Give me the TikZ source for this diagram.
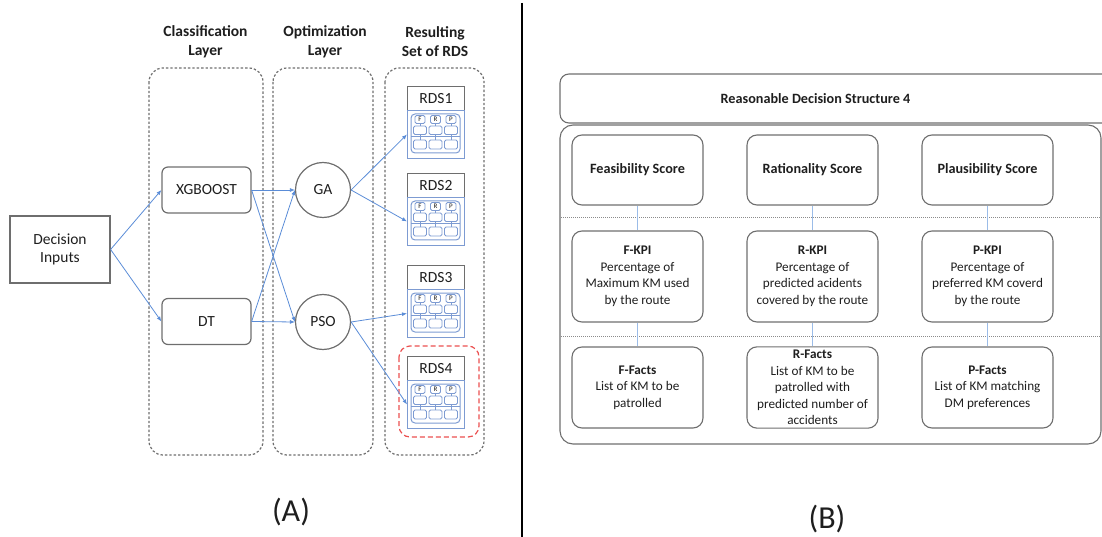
\documentclass[tikz,border=0pt]{standalone}
\usepackage{fontspec}
\setmainfont{Carlito}
\usetikzlibrary{arrows.meta}
\definecolor{flowblue}{RGB}{90,140,215}
\definecolor{linkblue}{RGB}{155,188,232}
\definecolor{rdsblue}{RGB}{125,155,210}
\definecolor{edgegray}{RGB}{110,110,110}
\definecolor{inkgray}{RGB}{30,30,30}
\definecolor{alertred}{RGB}{235,80,80}

\tikzset{
  every node/.style={text=inkgray},
  layerpanel/.style={draw=edgegray, line width=1.2pt, dash pattern=on 2.4pt off 2pt, rounded corners=14pt},
  layertitle/.style={align=center, font=\fontsize{15.5}{19}\selectfont\bfseries},
  inbox/.style={draw=edgegray, line width=1.2pt, minimum width=100pt, minimum height=67pt, align=center,
    font=\fontsize{15.5}{18}\selectfont},
  model/.style={draw=edgegray, line width=1.2pt, rounded corners=6pt, minimum width=89pt, minimum height=46pt,
    font=\fontsize{15.5}{18}\selectfont},
  algo/.style={circle, draw=edgegray, line width=1.2pt, minimum size=55pt, inner sep=0pt,
    font=\fontsize{15.5}{18}\selectfont},
  flow/.style={draw=flowblue, line width=0.8pt, -{Latex[length=5pt,width=4pt]}},
  tag/.style={font=\fontsize{32}{36}\selectfont},
  rds/.pic={
    \node[draw=edgegray, line width=0.9pt, minimum width=57pt, minimum height=24pt, anchor=north west,
      inner sep=0pt, font=\fontsize{15.5}{17}\selectfont] (-head) at (0,0) {#1};
    \node[draw=rdsblue, line width=0.9pt, minimum width=57pt, minimum height=48pt, anchor=north west,
      inner sep=0pt] (-body) at (0,24) {};
    \draw[rdsblue, rounded corners=4pt, line width=1pt] (4,28) rectangle (53,67);
    \draw[rdsblue, line width=0.5pt] (4,50.5) -- (53,50.5);
    \foreach \cx/\lt in {13/F,28.5/R,44/P}{
      \draw[rdsblue, line width=0.8pt, rounded corners=1.5pt] (\cx-5,29.5) rectangle (\cx+5,37.5);
      \node[inner sep=0pt, font=\fontsize{7}{7}\selectfont] at (\cx,33.5) {\lt};
      \draw[rdsblue, line width=0.8pt, rounded corners=1.5pt] (\cx-6.5,40) rectangle (\cx+6.5,48.5);
      \draw[rdsblue, line width=0.8pt, rounded corners=1.5pt] (\cx-6.5,54) rectangle (\cx+6.5,63);
      \draw[rdsblue, line width=0.4pt] (\cx,37.5) -- (\cx,40) (\cx,48.5) -- (\cx,54);
    }
  },
  rbox/.style={draw=edgegray, line width=1.1pt, rounded corners=10pt, minimum width=131pt, align=center,
    font=\fontsize{13.2}{16.5}\selectfont},
  scorebox/.style={rbox, minimum height=70pt, font=\fontsize{14.2}{17}\selectfont\bfseries},
  kpibox/.style={rbox, minimum height=91pt},
  factbox/.style={rbox, minimum height=81pt},
  link/.style={draw=linkblue, line width=1pt},
  rowsep/.style={draw=edgegray!80, line width=0.6pt, dash pattern=on 1pt off 1pt},
}

\begin{document}
\begin{tikzpicture}[x=1pt,y=-1pt]
\useasboundingbox (0,0) rectangle (1102,537);
\clip (0,0) rectangle (1102,537);

% ---------- (A) pipeline ----------
\draw[layerpanel] (149,68) rectangle (263,455);
\draw[layerpanel] (273,68) rectangle (373,455);
\draw[layerpanel] (385,68) rectangle (484,455);

\node[layertitle] (t1) at (205.5,42) {Classification\\Layer};
\node[layertitle] (t2) at (325,42) {Optimization\\Layer};
\node[layertitle] (t3) at (435,42) {Resulting\\Set of RDS};

\node[inbox] (inputs) at (60,249.5) {Decision\\Inputs};
\node[model] (xgb) at (206.5,190) {XGBOOST};
\node[model] (dt) at (206.5,321.5) {DT};
\node[algo] (ga) at (323,190) {GA};
\node[algo] (pso) at (323,322) {PSO};

\pic (r1) at (407,86) {rds=RDS1};
\pic (r2) at (407,173) {rds=RDS2};
\pic (r3) at (407,265) {rds=RDS3};
\pic (r4) at (407,356) {rds=RDS4};

\draw[alertred, line width=1.2pt, dash pattern=on 5pt off 3pt, rounded corners=11pt]
  (399,346) rectangle (479,437);

\draw[flow] (inputs.east) -- (xgb.west);
\draw[flow] (inputs.east) -- (dt.west);
\draw[flow] (xgb.east) -- (ga.west);
\draw[flow] (xgb.east) -- (pso.west);
\draw[flow] (dt.east) -- (pso.west);
\draw[flow] (dt.east) -- (ga.west);
\draw[flow] (ga.east) -- (r1-body.west);
\draw[flow] (ga.east) -- (r2-body.west);
\draw[flow] (pso.east) -- (r3-body.west);
\draw[flow] (pso.east) -- (r4-body.west);

\node[tag] (tagA) at (291,512) {(A)};

% ---------- divider ----------
\draw[line width=2.6pt, black] (522,3) -- (522,537);

% ---------- (B) decision structure ----------
\draw[draw=edgegray, line width=1.1pt, rounded corners=9pt] (560,74) rectangle (1125,123);
\node[font=\fontsize{14.2}{17}\selectfont\bfseries] (rdsname) at (815.5,98.5) {Reasonable Decision Structure 4};
\draw[draw=edgegray, line width=1.1pt, rounded corners=13pt] (560,125) rectangle (1101,444);

\draw[rowsep] (561,217) -- (1100,217);
\draw[rowsep] (561,336) -- (1100,336);

\node[scorebox] (fs) at (637.5,170) {Feasibility Score};
\node[scorebox] (rs) at (812.5,170) {Rationality Score};
\node[scorebox] (ps) at (987.5,170) {Plausibility Score};

\node[kpibox] (fk) at (637.5,276.5) {\textbf{F-KPI}\\Percentage of\\Maximum KM used\\by the route};
\node[kpibox] (rk) at (812.5,276.5) {\textbf{R-KPI}\\Percentage of\\predicted acidents\\covered by the route};
\node[kpibox] (pk) at (987.5,276.5) {\textbf{P-KPI}\\Percentage of\\preferred KM coverd\\by the route};

\node[factbox] (ff) at (637.5,387.5) {\textbf{F-Facts}\\List of KM to be\\patrolled};
\node[factbox] (rf) at (812.5,387.5) {\textbf{R-Facts}\\List of KM to be\\patrolled with\\predicted number of\\accidents};
\node[factbox] (pf) at (987.5,387.5) {\textbf{P-Facts}\\List of KM matching\\DM preferences};

\draw[link] (fs) -- (fk);
\draw[link] (rs) -- (rk);
\draw[link] (ps) -- (pk);
\draw[link] (fk) -- (ff);
\draw[link] (rk) -- (rf);
\draw[link] (pk) -- (pf);

\node[tag] (tagB) at (827,519) {(B)};
\end{tikzpicture}
\end{document}
